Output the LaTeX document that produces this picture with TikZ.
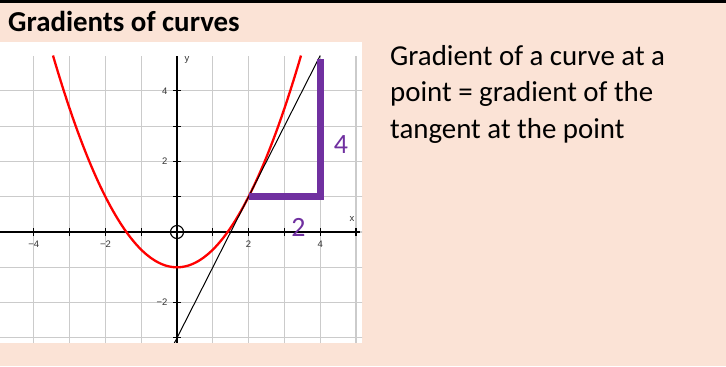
\documentclass[tikz,border=0pt]{standalone}
\usepackage{fontspec}
\setmainfont{Carlito}
\newfontfamily\axfont{Liberation Sans}
\definecolor{peach}{HTML}{FBE3D6}
\definecolor{gridgray}{HTML}{CBCBCB}
\definecolor{purp}{HTML}{7030A0}
\definecolor{ticktext}{HTML}{333333}
\tikzset{
  gridline/.style={draw=gridgray, line width=1.1bp},
  axisline/.style={draw=black, line width=1.1bp},
  ticklab/.style={font=\axfont\fontsize{9.5}{11}\selectfont, text=ticktext, inner sep=0pt},
  purplab/.style={font=\fontsize{28}{32}\selectfont, text=purp, inner sep=0pt},
  bodytext/.style={anchor=base west, font=\fontsize{29}{36.5}\selectfont, inner sep=0pt},
}
\begin{document}
\begin{tikzpicture}[x=1bp,y=-1bp]
\fill[peach] (0,0) rectangle (726,366);
\useasboundingbox (0,0) rectangle (726,366);
\fill[black] (0,0) rectangle (726,3);
\node[anchor=base west, font=\fontsize{29}{35}\selectfont\bfseries, inner sep=0pt] (title) at (8,31) {Gradients of curves};
\node[bodytext] (body1) at (390,65) {Gradient of a curve at a};
\node[bodytext] (body2) at (390,101.5) {point = gradient of the};
\node[bodytext] (body3) at (390,138) {tangent at the point};
\fill[white] (0,42) rectangle (362,343);
\begin{scope}[shift={(177,232)}, x=35.8bp, y=35.3bp]
  \clip (-4.944,-3.144) rectangle (5.168,5.4);
  % grid
  \foreach \i in {-4,...,5} \draw[gridline] (\i,-3.2) -- (\i,5);
  \foreach \j in {-3,...,4} \draw[gridline] (-5,\j) -- (5.2,\j);
  % axes
  \draw[axisline] (-5,0) -- (5.1,0);
  \draw[axisline] (0,-3.2) -- (0,5);
  \foreach \i in {-4,...,5} \draw[axisline] (\i,-0.11) -- (\i,0.11);
  \foreach \j in {-3,...,4} \draw[axisline] (-0.11,\j) -- (0.11,\j);
  \draw[axisline] (0,0) circle[radius=6.5bp];
  % tick labels
  \node[ticklab, anchor=north] (xm4) at (-4,-0.24) {−4};
  \node[ticklab, anchor=north] (xm2) at (-2,-0.24) {−2};
  \node[ticklab, anchor=north] (xp2) at (2,-0.24) {2};
  \node[ticklab, anchor=north] (xp4) at (4,-0.24) {4};
  \node[ticklab, anchor=east] (yp4) at (-0.26,4) {4};
  \node[ticklab, anchor=east] (yp2) at (-0.26,2) {2};
  \node[ticklab, anchor=east] (ym2) at (-0.26,-2) {−2};
  \node[ticklab] (xlab) at (4.89,0.37) {x};
  \node[ticklab] (ylab) at (0.28,4.87) {y};
  % curve and tangent
  \draw[red, line width=2.3bp, domain=-3.464:3.464, samples=100] plot (\x,{0.5*\x*\x-1});
  \draw[black, line width=1bp] (-0.1,-3.2) -- (4,5);
  % gradient triangle
  \draw[purp, line width=7bp] (2,1) -- (4,1) -- (4,4.9);
  \node[purplab] (run) at (3.39,0.14) {2};
  \node[purplab] (rise) at (4.58,2.49) {4};
\end{scope}
\end{tikzpicture}
\end{document}
